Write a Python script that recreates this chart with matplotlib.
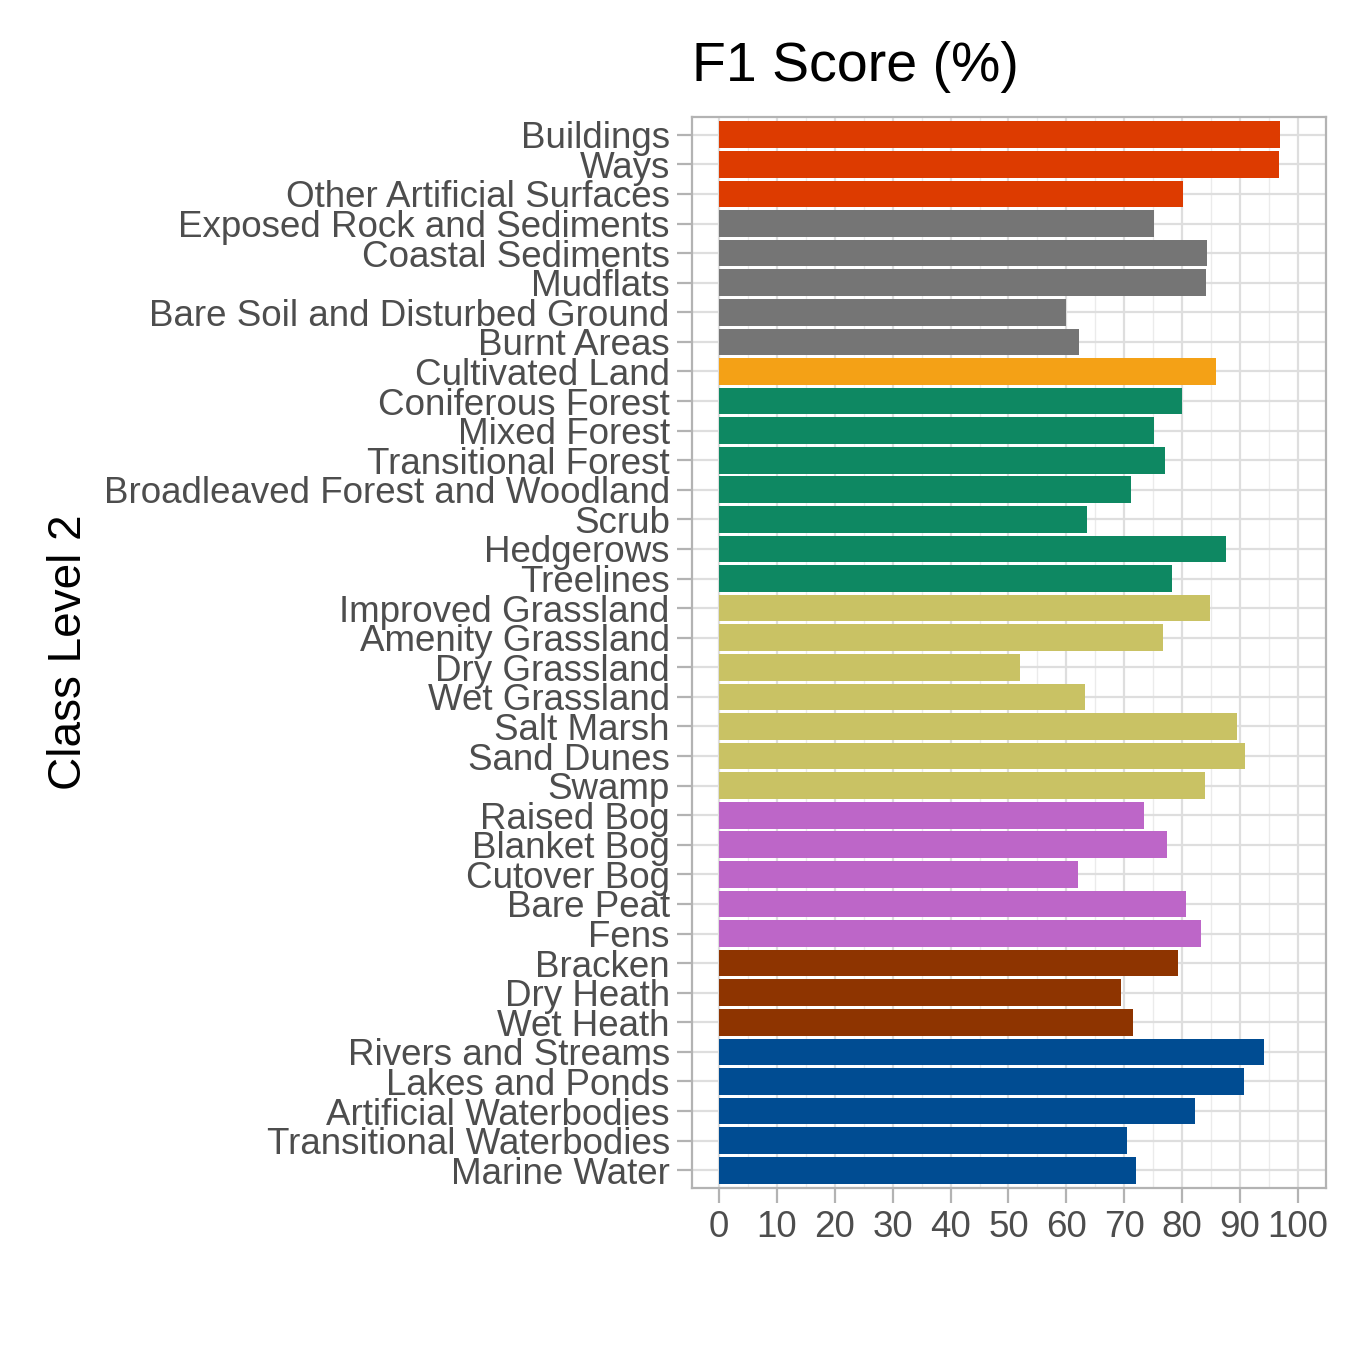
import matplotlib
matplotlib.use("Agg")
import matplotlib.pyplot as plt
import numpy as np
from matplotlib.ticker import MultipleLocator

plt.rcParams["font.family"] = ["Liberation Sans", "DejaVu Sans"]

classes = [
    "Buildings", "Ways", "Other Artificial Surfaces",
    "Exposed Rock and Sediments", "Coastal Sediments", "Mudflats",
    "Bare Soil and Disturbed Ground", "Burnt Areas",
    "Cultivated Land",
    "Coniferous Forest", "Mixed Forest", "Transitional Forest",
    "Broadleaved Forest and Woodland", "Scrub", "Hedgerows", "Treelines",
    "Improved Grassland", "Amenity Grassland", "Dry Grassland",
    "Wet Grassland", "Salt Marsh", "Sand Dunes", "Swamp",
    "Raised Bog", "Blanket Bog", "Cutover Bog", "Bare Peat", "Fens",
    "Bracken", "Dry Heath", "Wet Heath",
    "Rivers and Streams", "Lakes and Ponds", "Artificial Waterbodies",
    "Transitional Waterbodies", "Marine Water",
]
f1 = [
    96.9, 96.7, 80.1,
    75.1, 84.3, 84.1, 59.9, 62.2,
    85.8,
    80.0, 75.1, 77.0, 71.2, 63.6, 87.6, 78.2,
    84.8, 76.7, 52.0, 63.2, 89.5, 90.8, 83.9,
    73.4, 77.4, 62.0, 80.7, 83.2,
    79.3, 69.4, 71.5,
    94.1, 90.7, 82.2, 70.5, 72.0,
]
groups = (
    ["artificial"] * 3 + ["bare"] * 5 + ["cultivated"] + ["forest"] * 7
    + ["grass"] * 7 + ["peat"] * 5 + ["heath"] * 3 + ["water"] * 5
)
group_colors = {
    "artificial": "#DD3B00",
    "bare": "#757575",
    "cultivated": "#F4A116",
    "forest": "#0E8862",
    "grass": "#C9C264",
    "peat": "#BD66C8",
    "heath": "#8E3400",
    "water": "#004C92",
}

fig = plt.figure(figsize=(13.62, 13.45), dpi=100)
ax = fig.add_axes([692 / 1362, 1 - 1188 / 1345, (1326 - 692) / 1362, (1188 - 117) / 1345])

y = np.arange(len(classes))
ax.barh(y, f1, height=0.9, color=[group_colors[g] for g in groups], zorder=3)

ax.set_xlim(-4.66, 104.84)
ax.set_ylim(len(classes) - 0.4, -0.6)
ax.set_yticks(y)
ax.set_yticklabels(classes)
ax.xaxis.set_major_locator(MultipleLocator(10))
ax.xaxis.set_minor_locator(MultipleLocator(5))

ax.grid(which="major", color="#DEDEDE", lw=1.6, zorder=0)
ax.grid(which="minor", axis="x", color="#EBEBEB", lw=1.0, zorder=0)
ax.tick_params(which="major", length=11, width=1.6, color="#B3B3B3",
               labelsize=26.5, labelcolor="#4D4D4D", pad=5)
ax.tick_params(which="minor", length=0)
for s in ax.spines.values():
    s.set_color("#B3B3B3")
    s.set_linewidth(1.6)

ax.set_title("F1 Score (%)", loc="left", fontsize=40, pad=26)
ax.set_ylabel("Class Level 2", fontsize=33)
ax.yaxis.set_label_coords(-0.948, 0.5)

fig.savefig("out.png", dpi=100)
